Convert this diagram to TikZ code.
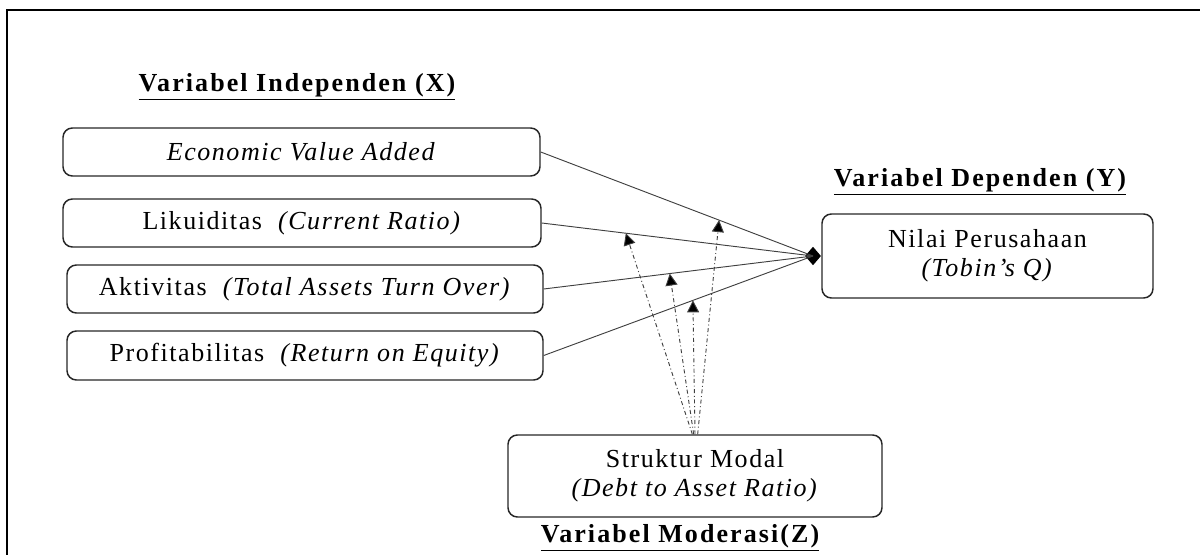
\documentclass[tikz,border=0pt]{standalone}
\usepackage{fontspec}
\setmainfont{Liberation Serif}[LetterSpace=6]
\usetikzlibrary{arrows.meta,shapes.geometric,calc}
\begin{document}
\begin{tikzpicture}[x=0.75pt,y=-0.75pt,
  varbox/.style={draw=black!85,line width=1.1pt,rounded corners=7pt,inner sep=0pt,font=\fontsize{19.5}{22}\selectfont},
  title/.style={font=\fontsize{19.5}{22}\selectfont\bfseries\addfontfeatures{LetterSpace=8},inner sep=0pt},
  link/.style={draw=black!75,line width=0.7pt},
  mod/.style={draw=black!75,line width=0.7pt,dash dot,-{Triangle[width=9pt,length=9pt,fill=black]}}]
\useasboundingbox (0,0) rectangle (1200,555);
\draw[line width=1.6pt] (7,556) -- (7,10) -- (1201,10);

\node[title] (tx) at (297,87) {\underline{Variabel Independen (X)}};
\node[title] (ty) at (980,182) {\underline{Variabel Dependen (Y)}};
\node[title] (tz) at (680,538) {\underline{Variabel Moderasi(Z)}};

\node[varbox,minimum width=477*0.75pt,minimum height=48*0.75pt] (eva) at (301.5,152) {\textit{Economic Value Added}};
\node[varbox,minimum width=478*0.75pt,minimum height=48*0.75pt] (liq) at (302,223) {Likuiditas\ \ \textit{(Current Ratio)}};
\node[varbox,minimum width=476*0.75pt,minimum height=48*0.75pt] (akt) at (305,289) {Aktivitas\ \ \textit{(Total Assets Turn Over)}};
\node[varbox,minimum width=476*0.75pt,minimum height=49*0.75pt] (pro) at (305,355.5) {Profitabilitas\ \ \textit{(Return on Equity)}};

\node[varbox,minimum width=331*0.75pt,minimum height=84*0.75pt,align=center] (nil) at (987.5,256) {Nilai Perusahaan\\\textit{(Tobin's Q)}};
\node[varbox,minimum width=374*0.75pt,minimum height=82*0.75pt,align=center] (sm) at (695,476) {Struktur Modal\\\textit{(Debt to Asset Ratio)}};

\node[diamond,fill=black,inner sep=0pt,minimum width=12pt,minimum height=14pt,anchor=east] (dm) at (nil.west) {};

\draw[link] (eva.east) -- (dm.center);
\draw[link] (liq.east) -- (dm.center);
\draw[link] (akt.east) -- (dm.center);
\draw[link] (pro.east) -- (dm.center);

\coordinate (m1) at ($(eva.east)!0.655!(dm.center)$);
\coordinate (m2) at ($(liq.east)!0.31!(dm.center)$);
\coordinate (m3) at ($(akt.east)!0.468!(dm.center)$);
\coordinate (m4) at ($(pro.east)!0.554!(dm.center)$);

\draw[mod] ([xshift=2pt]sm.north) -- (m1);
\draw[mod] ([xshift=-2pt]sm.north) -- (m2);
\draw[mod] ([xshift=-1pt]sm.north) -- (m3);
\draw[mod] ([xshift=0pt]sm.north) -- (m4);
\end{tikzpicture}
\end{document}
